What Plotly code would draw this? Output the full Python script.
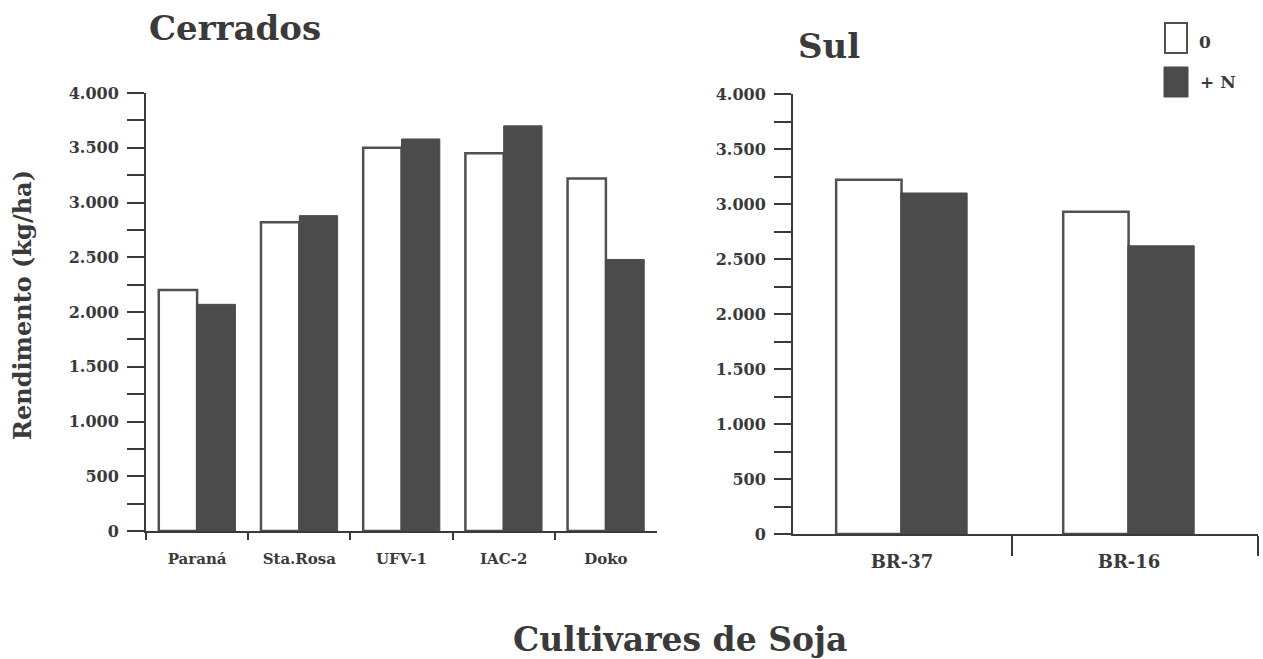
import plotly.graph_objects as go

# ---- data ----
cerrados_cultivars = ["Paraná", "Sta.Rosa", "UFV-1", "IAC-2", "Doko"]
cerrados_zero = [2200, 2820, 3500, 3450, 3220]
cerrados_n = [2070, 2880, 3580, 3700, 2480]

sul_cultivars = ["BR-37", "BR-16"]
sul_zero = [3220, 2930]
sul_n = [3100, 2620]

y_tickvals = [0, 500, 1000, 1500, 2000, 2500, 3000, 3500, 4000]
y_ticktext = ["0", "500", "1.000", "1.500", "2.000", "2.500", "3.000", "3.500", "4.000"]

series_names = ["0", "+ N"]

# ---- style ----
W, H = 1263, 659
FONT = "DejaVu Serif"
INK = "#3a3a3a"
DARK = "#4b4b4b"
EDGE = "#505050"


def px(x):
    return x / W


def py(y):
    return 1 - y / H


sul_pos = list(range(len(sul_cultivars)))
sul_range = [-0.48, 1.568]
sul_boundaries = [0.483, 1.567]

fig = go.Figure()

# Cerrados
fig.add_trace(go.Bar(x=cerrados_cultivars, y=cerrados_zero, name=series_names[0],
                     width=0.375, offset=-0.375,
                     marker=dict(color="white", line=dict(color=EDGE, width=2.5)),
                     xaxis="x", yaxis="y", showlegend=False))
fig.add_trace(go.Bar(x=cerrados_cultivars, y=cerrados_n, name=series_names[1],
                     width=0.375, offset=0,
                     marker=dict(color=DARK, line=dict(color=DARK, width=1)),
                     xaxis="x", yaxis="y", showlegend=False))
# Sul
fig.add_trace(go.Bar(x=sul_pos, y=sul_zero, name=series_names[0],
                     width=0.288, offset=-0.29,
                     marker=dict(color="white", line=dict(color=EDGE, width=2.5)),
                     xaxis="x2", yaxis="y2", showlegend=False))
fig.add_trace(go.Bar(x=sul_pos, y=sul_n, name=series_names[1],
                     width=0.292, offset=-0.005,
                     marker=dict(color=DARK, line=dict(color=DARK, width=1)),
                     xaxis="x2", yaxis="y2", showlegend=False))

yaxis_common = dict(
    range=[0, 4000], tickvals=y_tickvals, ticktext=y_ticktext,
    ticks="outside", ticklen=17, tickwidth=2, tickcolor=INK,
    minor=dict(dtick=250, ticks="outside", ticklen=17, tickwidth=2, tickcolor=INK),
    showline=True, linecolor=INK, linewidth=2, showgrid=False, zeroline=False,
    tickfont=dict(family=FONT, size=16, color=INK, weight="bold"), automargin=False,
    ticklabelstandoff=5,
)

fig.update_layout(
    width=W, height=H,
    template="none",
    paper_bgcolor="white", plot_bgcolor="white",
    margin=dict(l=0, r=0, t=0, b=0),
    barmode="overlay",
    font=dict(family=FONT, color=INK),
    xaxis=dict(domain=[px(146), px(657)], anchor="y",
               tickson="boundaries", ticks="outside", ticklen=7, tickwidth=2, tickcolor=INK,
               showline=True, linecolor=INK, linewidth=2, showgrid=False,
               tickfont=dict(family=FONT, size=15, color=INK, weight="bold"), automargin=False,
               ticklabelstandoff=13),
    yaxis=dict(domain=[py(531), py(93)], anchor="x", **yaxis_common),
    xaxis2=dict(domain=[px(793), px(1258)], anchor="y2", range=sul_range,
                tickvals=sul_pos, ticktext=sul_cultivars, ticks="",
                minor=dict(tickvals=sul_boundaries, ticks="outside", ticklen=20,
                           tickwidth=2, tickcolor=INK, showgrid=False),
                showline=True, linecolor=INK, linewidth=2, showgrid=False, zeroline=False,
                tickfont=dict(family=FONT, size=18, color=INK, weight="bold"), automargin=False,
                ticklabelstandoff=10),
    yaxis2=dict(domain=[py(534), py(94)], anchor="x2", **yaxis_common),
)

annotations = [
    dict(text="<b>Cerrados</b>", x=px(147), y=py(28), xanchor="left", yanchor="middle",
         font=dict(size=34, family=FONT, color=INK)),
    dict(text="<b>Sul</b>", x=px(796), y=py(46), xanchor="left", yanchor="middle",
         font=dict(size=34, family=FONT, color=INK)),
    dict(text="<b>Cultivares de Soja</b>", x=px(680), y=py(639), xanchor="center", yanchor="middle",
         font=dict(size=33, family=FONT, color=INK)),
    dict(text="<b>Rendimento (kg/ha)</b>", x=px(23), y=py(305), xanchor="center", yanchor="middle",
         textangle=-90, font=dict(size=24, family=FONT, color=INK)),
    dict(text="<b>0</b>", x=px(1197), y=py(42), xanchor="left", yanchor="middle",
         font=dict(size=17, family=FONT, color=INK)),
    dict(text="<b>+ N</b>", x=px(1198), y=py(82), xanchor="left", yanchor="middle",
         font=dict(size=17, family=FONT, color=INK)),
]
for a in annotations:
    a.update(xref="paper", yref="paper", showarrow=False)
fig.update_layout(annotations=annotations)

# legend swatches
fig.add_shape(type="rect", xref="paper", yref="paper",
              x0=px(1165), x1=px(1187), y0=py(53), y1=py(23),
              fillcolor="white", line=dict(color=EDGE, width=2))
fig.add_shape(type="rect", xref="paper", yref="paper",
              x0=px(1164), x1=px(1188), y0=py(97), y1=py(67),
              fillcolor=DARK, line=dict(color=DARK, width=1))

fig.write_html("out.html", config={"displayModeBar": False},
               post_script="document.body.style.margin='0px';document.body.style.overflow='hidden';")
